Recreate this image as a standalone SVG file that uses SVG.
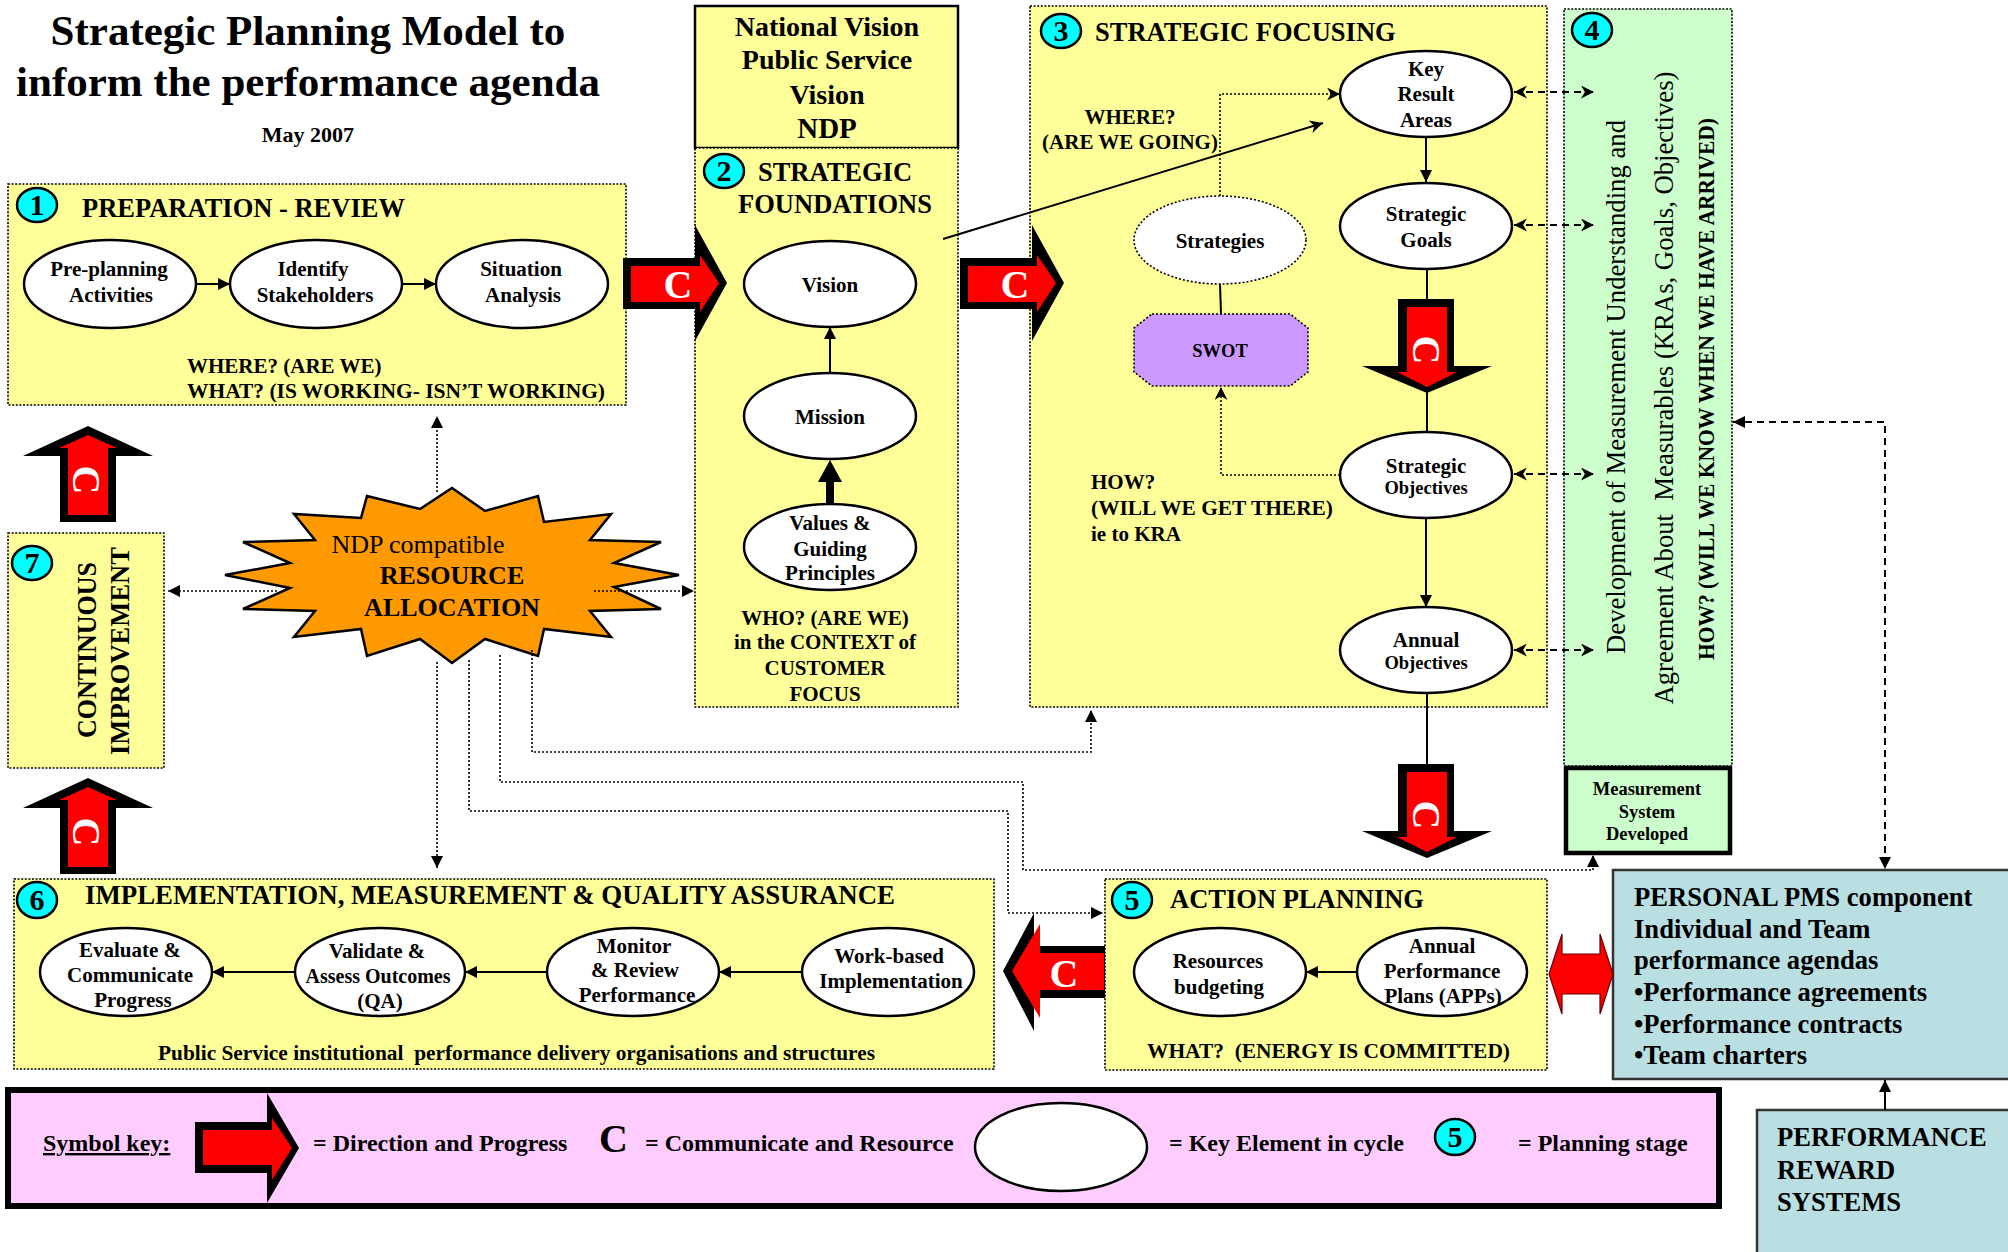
<svg xmlns="http://www.w3.org/2000/svg" width="2008" height="1252" viewBox="0 0 2008 1252">
  <defs>
    <style>
      text { font-family: "Liberation Serif", "Times New Roman", serif; font-weight: bold; fill: #000; }
      .reg { font-weight: normal; }
      .mid { text-anchor: middle; }
      .f21 { font-size: 21px; }
      .f19 { font-size: 18.5px; }
      .f26 { font-size: 26.5px; }
      .stage-y { fill: #FFFF99; stroke: #000; stroke-width: 1.6; stroke-dasharray: 2 1.6; }
      .stage-g { fill: #CCFFCC; stroke: #000; stroke-width: 1.6; stroke-dasharray: 2 1.6; }
      .ell { fill: #FFFFFF; stroke: #000; stroke-width: 2.5; }
      .num { fill: #00FFFF; stroke: #000; stroke-width: 2.5; }
      .numt { font-size: 30px; text-anchor: middle; }
      .pms { fill: #B9DFE3; stroke: #333; stroke-width: 2.5; }
      .pmst { font-size: 26.6px; }
      .solid { fill: none; stroke: #000; stroke-width: 2; }
      .dot { fill: none; stroke: #000; stroke-width: 1.6; stroke-dasharray: 2 2; }
      .dash { fill: none; stroke: #000; stroke-width: 2; stroke-dasharray: 7 5; }
      .blk { fill: #000; }
      .red { fill: #FF0000; }
      .cw { fill: #FFFFFF; font-size: 40px; text-anchor: middle; }
    </style>
    <marker id="tri" viewBox="0 0 10 10" refX="10" refY="5" markerWidth="14" markerHeight="12" markerUnits="userSpaceOnUse" orient="auto-start-reverse">
      <path d="M0,0 L10,5 L0,10 z" fill="#000"/>
    </marker>
    <marker id="stealth" viewBox="0 0 10 10" refX="10" refY="5" markerWidth="16" markerHeight="13" markerUnits="userSpaceOnUse" orient="auto-start-reverse">
      <path d="M0,0 L10,5 L0,10 L3,5 z" fill="#000"/>
    </marker>
    <!-- right-pointing progress arrow with white C -->
    <g id="arrow-right">
      <polygon class="blk" points="0,33 72,33 72,0 104,58 72,116 72,84 0,84"/>
      <polygon class="red" points="8,41 77,41 77,30 96,58 77,87 77,77 8,77"/>
      <text class="cw" x="55" y="73">C</text>
    </g>
    <!-- downward progress arrow with rotated C -->
    <g id="arrow-down">
      <polygon class="blk" points="1398,299 1454,299 1454,366 1492,366 1427,393 1362,366 1398,366"/>
      <polygon class="red" points="1407,307 1447,307 1447,372 1457,372 1427,387 1397,372 1407,372"/>
      <text class="cw" transform="rotate(90 1427 350)" x="1427" y="364">C</text>
    </g>
    <!-- upward progress arrow with rotated C -->
    <g id="arrow-up">
      <polygon class="blk" points="88,426 153,456 116,456 116,522 60,522 60,456 23,456"/>
      <polygon class="red" points="88,435 117,448 108,448 108,515 68,515 68,448 59,448"/>
      <text class="cw" transform="rotate(90 87 480)" x="87" y="494">C</text>
    </g>
  </defs>

  <rect x="0" y="0" width="2008" height="1252" fill="#FFFFFF"/>

  <!-- heading -->
  <g id="title">
    <text class="mid" x="308" y="45" font-size="43">Strategic Planning Model to</text>
    <text class="mid" x="308" y="96" font-size="43">inform the performance agenda</text>
    <text class="mid" x="308" y="142" font-size="22">May 2007</text>
  </g>

  <!-- stage 1 -->
  <g id="stage1">
    <rect class="stage-y" x="8" y="184" width="618" height="221"/>
    <ellipse class="num" cx="37" cy="205" rx="20" ry="17"/>
    <text class="numt" x="37" y="215">1</text>
    <text class="f26" x="82" y="217">PREPARATION - REVIEW</text>
    <g id="preplanning">
      <ellipse class="ell" cx="110" cy="284" rx="86" ry="44"/>
      <text class="mid f21" x="109" y="276">Pre-planning</text>
      <text class="mid f21" x="111" y="302">Activities</text>
    </g>
    <g id="stakeholders">
      <ellipse class="ell" cx="316" cy="284" rx="86" ry="44"/>
      <text class="mid f21" x="313" y="276">Identify</text>
      <text class="mid f21" x="315" y="302">Stakeholders</text>
    </g>
    <g id="situation">
      <ellipse class="ell" cx="522" cy="284" rx="86" ry="44"/>
      <text class="mid f21" x="521" y="276">Situation</text>
      <text class="mid f21" x="523" y="302">Analysis</text>
    </g>
    <text class="f21" x="187" y="373">WHERE? (ARE WE)</text>
    <text class="f21" x="187" y="398" textLength="418" lengthAdjust="spacingAndGlyphs">WHAT? (IS WORKING- ISN’T WORKING)</text>
  </g>

  <!-- national vision header -->
  <g id="national-vision">
    <rect x="695" y="6" width="263" height="142" fill="#FFFF99" stroke="#000" stroke-width="2.5"/>
    <text class="mid" x="827" y="36" font-size="28">National Vision</text>
    <text class="mid" x="827" y="69" font-size="28">Public Service</text>
    <text class="mid" x="827" y="104" font-size="28">Vision</text>
    <text class="mid" x="827" y="138" font-size="29">NDP</text>
  </g>

  <!-- stage 2 -->
  <g id="stage2">
    <rect class="stage-y" x="695" y="148" width="263" height="559"/>
    <ellipse class="num" cx="724" cy="171" rx="20" ry="17"/>
    <text class="numt" x="724" y="181">2</text>
    <text class="mid f26" x="835" y="181">STRATEGIC</text>
    <text class="mid f26" x="835" y="213">FOUNDATIONS</text>
    <g id="vision">
      <ellipse class="ell" cx="830" cy="284" rx="86" ry="43"/>
      <text class="mid f21" x="830" y="292">Vision</text>
    </g>
    <g id="mission">
      <ellipse class="ell" cx="830" cy="416" rx="86" ry="43"/>
      <text class="mid f21" x="830" y="424">Mission</text>
    </g>
    <g id="values">
      <ellipse class="ell" cx="830" cy="547" rx="86" ry="43"/>
      <text class="mid f21" x="830" y="530">Values &amp;</text>
      <text class="mid f21" x="830" y="556">Guiding</text>
      <text class="mid f21" x="830" y="580">Principles</text>
    </g>
    <text class="mid f21" x="825" y="625">WHO? (ARE WE)</text>
    <text class="mid f21" x="825" y="649">in the CONTEXT of</text>
    <text class="mid f21" x="825" y="675">CUSTOMER</text>
    <text class="mid f21" x="825" y="701">FOCUS</text>
  </g>

  <!-- stage 3 -->
  <g id="stage3">
    <rect class="stage-y" x="1030" y="6" width="517" height="701"/>
    <ellipse class="num" cx="1061" cy="31" rx="20" ry="17"/>
    <text class="numt" x="1061" y="41">3</text>
    <text class="f26" x="1095" y="41">STRATEGIC FOCUSING</text>
    <text class="mid f21" x="1130" y="124">WHERE?</text>
    <text class="mid f21" x="1130" y="149">(ARE WE GOING)</text>
    <text class="f21" x="1091" y="489">HOW?</text>
    <text class="f21" x="1091" y="515" textLength="242" lengthAdjust="spacingAndGlyphs">(WILL WE GET THERE)</text>
    <text class="f21" x="1091" y="541">ie to KRA</text>
    <g id="kra">
      <ellipse class="ell" cx="1426" cy="94" rx="86" ry="43"/>
      <text class="mid f21" x="1426" y="76">Key</text>
      <text class="mid f21" x="1426" y="101">Result</text>
      <text class="mid f21" x="1426" y="127">Areas</text>
    </g>
    <g id="strategic-goals">
      <ellipse class="ell" cx="1426" cy="226" rx="86" ry="43"/>
      <text class="mid f21" x="1426" y="221">Strategic</text>
      <text class="mid f21" x="1426" y="247">Goals</text>
    </g>
    <g id="strategic-objectives">
      <ellipse class="ell" cx="1426" cy="475" rx="86" ry="43"/>
      <text class="mid f21" x="1426" y="473">Strategic</text>
      <text class="mid f19" x="1426" y="494">Objectives</text>
    </g>
    <g id="annual-objectives">
      <ellipse class="ell" cx="1426" cy="650" rx="86" ry="43"/>
      <text class="mid f21" x="1426" y="647">Annual</text>
      <text class="mid f19" x="1426" y="669">Objectives</text>
    </g>
    <g id="strategies">
      <ellipse cx="1220" cy="240" rx="86" ry="44" fill="#FFFFFF" stroke="#000" stroke-width="1.6" stroke-dasharray="2 2"/>
      <text class="mid f21" x="1220" y="248">Strategies</text>
    </g>
    <g id="swot">
      <polygon points="1152,314 1290,314 1308,328 1308,372 1290,386 1152,386 1134,372 1134,328" fill="#CC99FF" stroke="#000" stroke-width="1.6" stroke-dasharray="2 2"/>
      <text class="mid f19" x="1220" y="357">SWOT</text>
    </g>
  </g>

  <!-- stage 4 -->
  <g id="stage4">
    <rect class="stage-g" x="1564" y="9" width="168" height="757"/>
    <ellipse class="num" cx="1592" cy="30" rx="20" ry="17"/>
    <text class="numt" x="1592" y="40">4</text>
    <text class="reg mid" font-size="27" transform="rotate(-90 1625 387)" x="1625" y="387" textLength="534" lengthAdjust="spacingAndGlyphs">Development of Measurement Understanding and</text>
    <text class="reg mid" font-size="27" transform="rotate(-90 1673 388)" x="1673" y="388" textLength="633" lengthAdjust="spacingAndGlyphs" xml:space="preserve">Agreement About  Measurables (KRAs, Goals, Objectives)</text>
    <text class="mid" font-size="23" transform="rotate(-90 1714 389)" x="1714" y="389" textLength="542" lengthAdjust="spacingAndGlyphs">HOW? (WILL WE KNOW WHEN WE HAVE ARRIVED)</text>
  </g>
  <g id="measurement-system">
    <rect x="1566" y="768" width="164" height="85" fill="#CCFFCC" stroke="#000" stroke-width="4.5"/>
    <text class="mid f19" x="1647" y="795">Measurement</text>
    <text class="mid f19" x="1647" y="818">System</text>
    <text class="mid f19" x="1647" y="840">Developed</text>
  </g>

  <!-- stage 5 -->
  <g id="stage5">
    <rect class="stage-y" x="1105" y="879" width="442" height="191"/>
    <ellipse class="num" cx="1132" cy="900" rx="20" ry="18"/>
    <text class="numt" x="1132" y="910">5</text>
    <text class="f26" x="1170" y="908">ACTION PLANNING</text>
    <g id="resources-budgeting">
      <ellipse class="ell" cx="1220" cy="972" rx="86" ry="44"/>
      <text class="mid f21" x="1218" y="968">Resources</text>
      <text class="mid f21" x="1219" y="994">budgeting</text>
    </g>
    <g id="apps">
      <ellipse class="ell" cx="1442" cy="972" rx="85" ry="44"/>
      <text class="mid f21" x="1442" y="953">Annual</text>
      <text class="mid f21" x="1442" y="978">Performance</text>
      <text class="mid f21" x="1443" y="1003">Plans (APPs)</text>
    </g>
    <text class="f21" x="1147" y="1058" textLength="363" lengthAdjust="spacingAndGlyphs" xml:space="preserve">WHAT?  (ENERGY IS COMMITTED)</text>
  </g>

  <!-- stage 6 -->
  <g id="stage6">
    <rect class="stage-y" x="14" y="879" width="980" height="190"/>
    <ellipse class="num" cx="37" cy="900" rx="20" ry="18"/>
    <text class="numt" x="37" y="910">6</text>
    <text class="f26" x="85" y="904" textLength="810" lengthAdjust="spacingAndGlyphs">IMPLEMENTATION, MEASUREMENT &amp; QUALITY ASSURANCE</text>
    <g id="evaluate">
      <ellipse class="ell" cx="126" cy="972" rx="86" ry="44"/>
      <text class="mid f21" x="130" y="957">Evaluate &amp;</text>
      <text class="mid f21" x="130" y="982">Communicate</text>
      <text class="mid f21" x="133" y="1007">Progress</text>
    </g>
    <g id="validate">
      <ellipse class="ell" cx="380" cy="972" rx="85" ry="44"/>
      <text class="mid f21" x="377" y="958">Validate &amp;</text>
      <text class="mid" font-size="20" x="378" y="983">Assess Outcomes</text>
      <text class="mid f21" x="380" y="1008">(QA)</text>
    </g>
    <g id="monitor">
      <ellipse class="ell" cx="633" cy="972" rx="86" ry="44"/>
      <text class="mid f21" x="634" y="953">Monitor</text>
      <text class="mid f21" x="635" y="977">&amp; Review</text>
      <text class="mid f21" x="637" y="1002">Performance</text>
    </g>
    <g id="work-based">
      <ellipse class="ell" cx="888" cy="972" rx="86" ry="44"/>
      <text class="mid f21" x="889" y="963">Work-based</text>
      <text class="mid f21" x="891" y="988">Implementation</text>
    </g>
    <text x="158" y="1060" font-size="20" textLength="717" lengthAdjust="spacingAndGlyphs" xml:space="preserve">Public Service institutional  performance delivery organisations and structures</text>
  </g>

  <!-- stage 7 -->
  <g id="stage7">
    <rect class="stage-y" x="8" y="533" width="156" height="235"/>
    <ellipse class="num" cx="32" cy="563" rx="20" ry="17"/>
    <text class="numt" x="32" y="573">7</text>
    <text class="mid" font-size="27" transform="rotate(-90 96 650)" x="96" y="650" textLength="176" lengthAdjust="spacingAndGlyphs">CONTINUOUS</text>
    <text class="mid" font-size="27" transform="rotate(-90 129 651)" x="129" y="651" textLength="208" lengthAdjust="spacingAndGlyphs">IMPROVEMENT</text>
  </g>

  <!-- resource allocation burst -->
  <g id="resource-allocation">
    <polygon points="452,488 485,511 538,496 544,522 611,514 590,540 661,542 614,563 679,575 614,587 661,609 590,611 611,637 544,629 538,656 485,639 452,663 420,639 367,656 361,629 294,637 315,611 243,609 290,588 225,575 290,563 243,542 315,540 294,514 361,518 367,496 420,509" fill="#FF9900" stroke="#000" stroke-width="2.5" stroke-linejoin="miter"/>
    <text class="reg mid" font-size="26" x="418" y="553">NDP compatible</text>
    <text class="mid" font-size="26" x="452" y="584">RESOURCE</text>
    <text class="mid" font-size="26" x="452" y="616">ALLOCATION</text>
  </g>

  <!-- personal performance management -->
  <g id="personal-pms">
    <rect class="pms" x="1613" y="870" width="400" height="209"/>
    <text class="pmst" x="1634" y="906">PERSONAL PMS component</text>
    <text class="pmst" x="1634" y="938">Individual and Team</text>
    <text class="pmst" x="1634" y="969">performance agendas</text>
    <text class="pmst" x="1634" y="1001">•Performance agreements</text>
    <text class="pmst" x="1634" y="1033">•Performance contracts</text>
    <text class="pmst" x="1634" y="1064">•Team charters</text>
  </g>
  <g id="reward-systems">
    <rect class="pms" x="1757" y="1110" width="260" height="150"/>
    <text class="pmst" x="1777" y="1146">PERFORMANCE</text>
    <text class="pmst" x="1777" y="1179">REWARD</text>
    <text class="pmst" x="1777" y="1211">SYSTEMS</text>
  </g>

  <!-- connectors -->
  <g id="connectors">
    <!-- stage 1 chain -->
    <line class="solid" x1="196" y1="284" x2="230" y2="284" marker-end="url(#tri)"/>
    <line class="solid" x1="402" y1="284" x2="436" y2="284" marker-end="url(#tri)"/>
    <!-- stage 2 chain -->
    <line class="solid" x1="830" y1="373" x2="830" y2="327" marker-end="url(#tri)"/>
    <line x1="830" y1="503" x2="830" y2="478" stroke="#000" stroke-width="8"/>
    <polygon class="blk" points="818,482 842,482 830,460"/>
    <!-- foundations to key result areas -->
    <line class="solid" x1="943" y1="239" x2="1323" y2="123" marker-end="url(#stealth)"/>
    <!-- stage 3 chain -->
    <line class="solid" x1="1426" y1="137" x2="1426" y2="182" marker-end="url(#tri)"/>
    <line class="solid" x1="1427" y1="269" x2="1427" y2="300"/>
    <line class="solid" x1="1427" y1="392" x2="1427" y2="432"/>
    <line class="solid" x1="1426" y1="518" x2="1426" y2="607" marker-end="url(#tri)"/>
    <line class="solid" x1="1427" y1="693" x2="1427" y2="764"/>
    <line class="solid" x1="1220" y1="284" x2="1221" y2="314"/>
    <polyline class="dot" points="1220,196 1220,94 1340,94" marker-end="url(#stealth)"/>
    <polyline class="dot" points="1340,475 1221,475 1221,387" marker-end="url(#stealth)"/>
    <!-- stage 3 to stage 4 -->
    <line class="dash" x1="1514" y1="92" x2="1594" y2="92" marker-start="url(#stealth)" marker-end="url(#stealth)"/>
    <line class="dash" x1="1514" y1="225" x2="1594" y2="225" marker-start="url(#stealth)" marker-end="url(#stealth)"/>
    <line class="dash" x1="1514" y1="474" x2="1594" y2="474" marker-start="url(#stealth)" marker-end="url(#stealth)"/>
    <line class="dash" x1="1514" y1="650" x2="1594" y2="650" marker-start="url(#stealth)" marker-end="url(#stealth)"/>
    <!-- stage 4 to personal PMS -->
    <polyline class="dash" points="1733,422 1885,422 1885,869" marker-start="url(#tri)" marker-end="url(#tri)"/>
    <line class="solid" x1="1885" y1="1110" x2="1885" y2="1080" marker-end="url(#tri)"/>
    <!-- stage 5 chain -->
    <line class="solid" x1="1357" y1="972" x2="1306" y2="972" marker-end="url(#tri)"/>
    <!-- stage 6 chain -->
    <line class="solid" x1="802" y1="972" x2="719" y2="972" marker-end="url(#tri)"/>
    <line class="solid" x1="547" y1="972" x2="465" y2="972" marker-end="url(#tri)"/>
    <line class="solid" x1="295" y1="972" x2="212" y2="972" marker-end="url(#tri)"/>
    <!-- resource allocation links -->
    <line class="dot" x1="437" y1="492" x2="437" y2="416" marker-end="url(#tri)"/>
    <line class="dot" x1="437" y1="662" x2="437" y2="868" marker-end="url(#tri)"/>
    <line class="dot" x1="277" y1="591" x2="168" y2="591" marker-end="url(#tri)"/>
    <line class="dot" x1="594" y1="591" x2="694" y2="591" marker-end="url(#tri)"/>
    <polyline class="dot" points="532,650 532,752 1091,752 1091,710" marker-end="url(#tri)"/>
    <polyline class="dot" points="500,655 500,782 1023,782 1023,870 1593,870 1593,855" marker-end="url(#tri)"/>
    <polyline class="dot" points="469,660 469,811 1008,811 1008,913 1103,913" marker-end="url(#tri)"/>
  </g>

  <!-- progress arrows -->
  <g id="progress-arrows">
    <use href="#arrow-right" transform="translate(623,225)"/>
    <use href="#arrow-right" transform="translate(960,225)"/>
    <use href="#arrow-down"/>
    <use href="#arrow-down" transform="translate(0,465)"/>
    <use href="#arrow-up"/>
    <use href="#arrow-up" transform="translate(0,352)"/>
    <g id="arrow-left">
      <polygon class="blk" points="1003,971 1034,913 1034,946 1105,946 1105,998 1034,998 1034,1031"/>
      <polygon class="red" points="1012,971 1040,924 1040,953 1104,953 1104,990 1040,990 1040,1018"/>
      <text class="cw" x="1064" y="987">C</text>
    </g>
    <polygon points="1549,974 1562,934 1562,954 1600,954 1600,934 1613,974 1600,1014 1600,994 1562,994 1562,1014" fill="#FF0000" stroke="#600" stroke-width="1.2"/>
  </g>

  <!-- symbol key -->
  <g id="symbol-key">
    <rect x="8" y="1090" width="1711" height="116" fill="#FFCCFF" stroke="#000" stroke-width="6"/>
    <text font-size="24" x="43" y="1151" text-decoration="underline">Symbol key:</text>
    <polygon class="blk" points="195,1122 267,1122 267,1093 299,1148 267,1203 267,1173 195,1173"/>
    <polygon class="red" points="203,1130 272,1130 272,1118 292,1148 272,1180 272,1165 203,1165"/>
    <text font-size="24" x="313" y="1151">= Direction and Progress</text>
    <text font-size="40" x="599" y="1152">C</text>
    <text font-size="24" x="645" y="1151">= Communicate and Resource</text>
    <ellipse class="ell" cx="1061" cy="1147" rx="86" ry="44"/>
    <text font-size="24" x="1169" y="1151">= Key Element in cycle</text>
    <ellipse class="num" cx="1455" cy="1137" rx="20" ry="18"/>
    <text class="numt" x="1455" y="1147">5</text>
    <text font-size="24" x="1518" y="1151">= Planning stage</text>
  </g>
</svg>
